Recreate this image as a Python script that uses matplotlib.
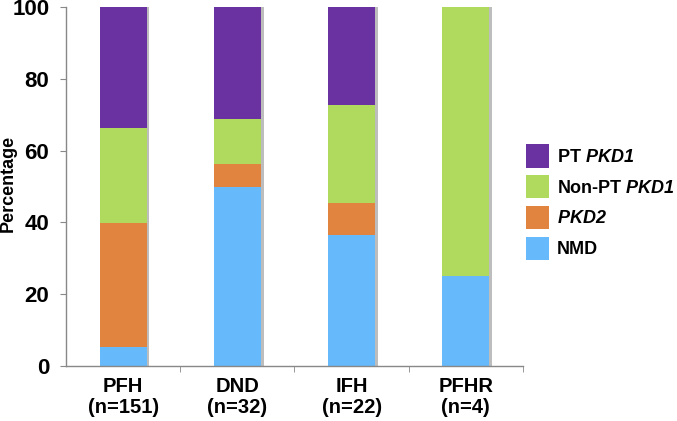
import numpy as np
import matplotlib
matplotlib.use("Agg")
import matplotlib.pyplot as plt
from matplotlib.patches import Patch

plt.rcParams['font.family'] = ['Liberation Sans', 'DejaVu Sans']
plt.rcParams['font.weight'] = 'bold'
# gene names are bold italic inside the legend (digits included)
plt.rcParams['mathtext.fontset'] = 'custom'
plt.rcParams['mathtext.it'] = 'Liberation Sans:bold:italic'
plt.rcParams['mathtext.rm'] = 'Liberation Sans:bold:italic'

# data (percent of each group)
groups = ['PFH\n(n=151)', 'DND\n(n=32)', 'IFH\n(n=22)', 'PFHR\n(n=4)']
nmd = [5.3, 50.0, 36.4, 25.0]
pkd2 = [34.4, 6.25, 9.1, 0.0]
non_pt_pkd1 = [26.5, 12.5, 27.2, 75.0]
pt_pkd1 = [33.8, 31.25, 27.3, 0.0]

series = [
    ('NMD', nmd, '#66B9FA'),
    (r'$\mathrm{PKD2}$', pkd2, '#E0843F'),
    (r'Non-PT $\mathrm{PKD1}$', non_pt_pkd1, '#AFDA5E'),
    (r'PT $\mathrm{PKD1}$', pt_pkd1, '#6A31A0'),
]

fig = plt.figure(figsize=(6.77, 4.21), dpi=100)
ax = fig.add_axes([0.0975, 0.131, 0.675, 0.852])

x = np.arange(len(groups))
width = 0.41

# soft shadow behind each bar
totals = np.sum([s[1] for s in series], axis=0)
ax.bar(x + 0.025, totals, width, color='#bdbdbd', zorder=1, linewidth=0)

bottom = np.zeros(len(groups))
for label, vals, color in series:
    ax.bar(x, vals, width, bottom=bottom, color=color, zorder=2, linewidth=0)
    bottom += np.array(vals)

ax.set_xlim(-0.5, 3.5)
ax.set_ylim(0, 100)
ax.set_yticks([0, 20, 40, 60, 80, 100])
ax.set_xticks(x)
ax.set_xticklabels(groups, fontsize=14.5, fontweight='bold', linespacing=1.15)
ax.set_xticks([0.5, 1.5, 2.5, 3.5], minor=True)
ax.tick_params(axis='x', which='major', length=0, pad=8)
ax.tick_params(axis='x', which='minor', length=4, color='#888888')
ax.tick_params(axis='y', labelsize=16, length=4, color='#888888', pad=8)
for t in ax.get_yticklabels():
    t.set_fontweight('bold')

# y label sits right at the left edge of the figure
fig.text(0.0, 0.565, 'Percentage', rotation=90, ha='left', va='center',
         fontsize=13, fontweight='bold')

for s in ['top', 'right']:
    ax.spines[s].set_visible(False)
for s in ['left', 'bottom']:
    ax.spines[s].set_color('#888888')
    ax.spines[s].set_linewidth(1)

handles = [Patch(facecolor=c, edgecolor='none', label=l) for l, _, c in reversed(series)]
fig.legend(handles=handles, loc='center left', bbox_to_anchor=(0.777, 0.52),
           frameon=False, fontsize=13, handlelength=1.25, handleheight=1.6,
           handletextpad=0.45, labelspacing=0.42, borderaxespad=0, borderpad=0)

fig.savefig('out.png', dpi=100)
